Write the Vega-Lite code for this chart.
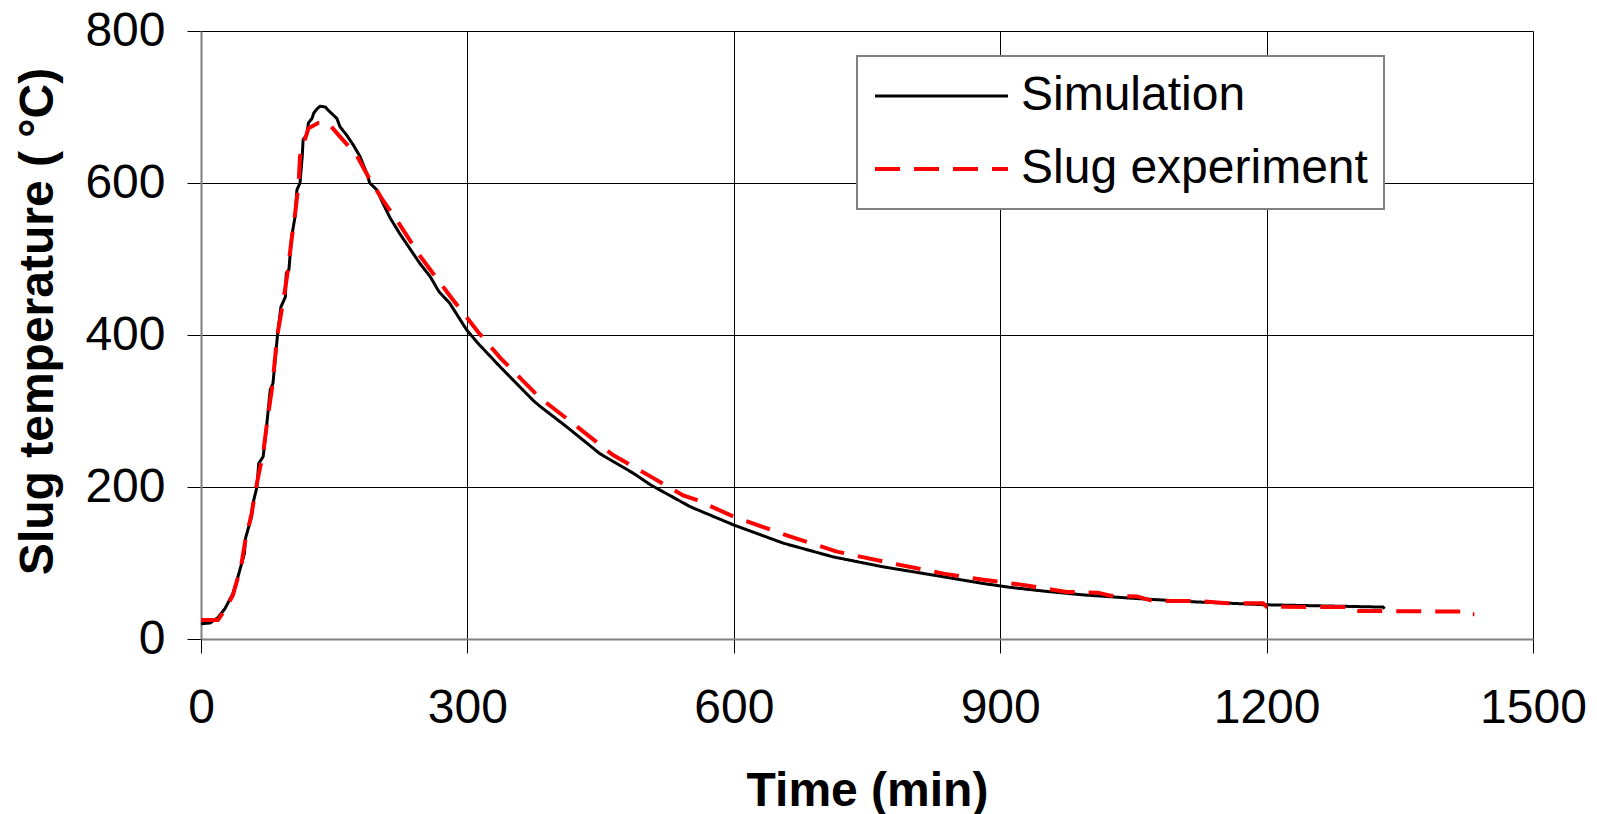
{
  "$schema": "https://vega.github.io/schema/vega-lite/v6.json",
  "width": 1332,
  "height": 608,
  "autosize": "none",
  "padding": {"left": 201, "top": 31, "right": 64, "bottom": 175},
  "background": "white",
  "config": {
    "view": {"stroke": null},
    "font": "Liberation Sans",
    "axis": {
      "domainColor": "#808080",
      "domainWidth": 2,
      "tickColor": "#000000",
      "tickWidth": 1,
      "tickSize": 14,
      "gridColor": "#000000",
      "gridWidth": 1,
      "gridOpacity": 1,
      "labelFontSize": 48,
      "labelColor": "#000000",
      "labelFont": "Liberation Sans",
      "titleFont": "Liberation Sans",
      "titleFontSize": 48,
      "titleFontWeight": "bold",
      "titleColor": "#000000",
      "labelFlush": false,
      "labelOverlap": false,
      "format": "d"
    }
  },
  "data": {
    "values": [
      {"series": "Simulation", "time": 0, "temp": 20},
      {"series": "Simulation", "time": 10, "temp": 21},
      {"series": "Simulation", "time": 19, "temp": 28},
      {"series": "Simulation", "time": 27, "temp": 40},
      {"series": "Simulation", "time": 36, "temp": 60},
      {"series": "Simulation", "time": 40, "temp": 75},
      {"series": "Simulation", "time": 49, "temp": 113},
      {"series": "Simulation", "time": 50, "temp": 132},
      {"series": "Simulation", "time": 57, "temp": 161},
      {"series": "Simulation", "time": 58, "temp": 176},
      {"series": "Simulation", "time": 63, "temp": 200},
      {"series": "Simulation", "time": 65, "temp": 231},
      {"series": "Simulation", "time": 70, "temp": 240},
      {"series": "Simulation", "time": 73, "temp": 270},
      {"series": "Simulation", "time": 78, "temp": 328},
      {"series": "Simulation", "time": 81, "temp": 336},
      {"series": "Simulation", "time": 86, "temp": 398},
      {"series": "Simulation", "time": 90, "temp": 437},
      {"series": "Simulation", "time": 95, "temp": 450},
      {"series": "Simulation", "time": 96, "temp": 481},
      {"series": "Simulation", "time": 99, "temp": 486},
      {"series": "Simulation", "time": 102, "temp": 529},
      {"series": "Simulation", "time": 106, "temp": 556},
      {"series": "Simulation", "time": 108, "temp": 591},
      {"series": "Simulation", "time": 111.5, "temp": 600},
      {"series": "Simulation", "time": 114, "temp": 635},
      {"series": "Simulation", "time": 115, "temp": 657},
      {"series": "Simulation", "time": 119, "temp": 663},
      {"series": "Simulation", "time": 121, "temp": 679},
      {"series": "Simulation", "time": 125, "temp": 685},
      {"series": "Simulation", "time": 127, "temp": 692},
      {"series": "Simulation", "time": 131, "temp": 698},
      {"series": "Simulation", "time": 134, "temp": 701},
      {"series": "Simulation", "time": 140, "temp": 700},
      {"series": "Simulation", "time": 143, "temp": 696},
      {"series": "Simulation", "time": 153, "temp": 685},
      {"series": "Simulation", "time": 156.5, "temp": 674},
      {"series": "Simulation", "time": 164, "temp": 663},
      {"series": "Simulation", "time": 171.5, "temp": 650},
      {"series": "Simulation", "time": 179, "temp": 635},
      {"series": "Simulation", "time": 186.6, "temp": 613},
      {"series": "Simulation", "time": 190, "temp": 600},
      {"series": "Simulation", "time": 198, "temp": 591},
      {"series": "Simulation", "time": 205, "temp": 573},
      {"series": "Simulation", "time": 213, "temp": 554},
      {"series": "Simulation", "time": 224, "temp": 533},
      {"series": "Simulation", "time": 235, "temp": 514},
      {"series": "Simulation", "time": 246.6, "temp": 494},
      {"series": "Simulation", "time": 258, "temp": 477},
      {"series": "Simulation", "time": 268, "temp": 457},
      {"series": "Simulation", "time": 280, "temp": 442},
      {"series": "Simulation", "time": 299, "temp": 407},
      {"series": "Simulation", "time": 312, "temp": 389},
      {"series": "Simulation", "time": 337, "temp": 358},
      {"series": "Simulation", "time": 374, "temp": 314},
      {"series": "Simulation", "time": 382, "temp": 306},
      {"series": "Simulation", "time": 412, "temp": 279},
      {"series": "Simulation", "time": 449, "temp": 244},
      {"series": "Simulation", "time": 487, "temp": 218},
      {"series": "Simulation", "time": 506, "temp": 203},
      {"series": "Simulation", "time": 551, "temp": 174},
      {"series": "Simulation", "time": 600, "temp": 150},
      {"series": "Simulation", "time": 656, "temp": 126},
      {"series": "Simulation", "time": 712, "temp": 108},
      {"series": "Simulation", "time": 768, "temp": 95},
      {"series": "Simulation", "time": 825, "temp": 84},
      {"series": "Simulation", "time": 881, "temp": 73},
      {"series": "Simulation", "time": 911, "temp": 68},
      {"series": "Simulation", "time": 949, "temp": 63},
      {"series": "Simulation", "time": 994, "temp": 58},
      {"series": "Simulation", "time": 1050, "temp": 53.5},
      {"series": "Simulation", "time": 1117, "temp": 49},
      {"series": "Simulation", "time": 1200, "temp": 45},
      {"series": "Simulation", "time": 1331, "temp": 42},
      {"series": "Simulation", "time": 1333, "temp": 40},
      {"series": "Slug experiment", "time": 0, "temp": 25},
      {"series": "Slug experiment", "time": 19, "temp": 25},
      {"series": "Slug experiment", "time": 27, "temp": 38},
      {"series": "Slug experiment", "time": 36, "temp": 58},
      {"series": "Slug experiment", "time": 45, "temp": 95},
      {"series": "Slug experiment", "time": 50, "temp": 130},
      {"series": "Slug experiment", "time": 57, "temp": 165},
      {"series": "Slug experiment", "time": 63, "temp": 205},
      {"series": "Slug experiment", "time": 70, "temp": 245},
      {"series": "Slug experiment", "time": 75, "temp": 290},
      {"series": "Slug experiment", "time": 80, "temp": 330},
      {"series": "Slug experiment", "time": 86, "temp": 400},
      {"series": "Slug experiment", "time": 92, "temp": 440},
      {"series": "Slug experiment", "time": 97, "temp": 478},
      {"series": "Slug experiment", "time": 102, "temp": 525},
      {"series": "Slug experiment", "time": 106, "temp": 560},
      {"series": "Slug experiment", "time": 110, "temp": 600},
      {"series": "Slug experiment", "time": 111.5, "temp": 635},
      {"series": "Slug experiment", "time": 115, "temp": 650},
      {"series": "Slug experiment", "time": 121, "temp": 672},
      {"series": "Slug experiment", "time": 132, "temp": 679},
      {"series": "Slug experiment", "time": 143, "temp": 679},
      {"series": "Slug experiment", "time": 156.5, "temp": 661},
      {"series": "Slug experiment", "time": 175, "temp": 637},
      {"series": "Slug experiment", "time": 190, "temp": 605},
      {"series": "Slug experiment", "time": 205, "temp": 577},
      {"series": "Slug experiment", "time": 224, "temp": 545},
      {"series": "Slug experiment", "time": 246, "temp": 505},
      {"series": "Slug experiment", "time": 262, "temp": 480},
      {"series": "Slug experiment", "time": 280, "temp": 452},
      {"series": "Slug experiment", "time": 312, "temp": 404},
      {"series": "Slug experiment", "time": 337, "temp": 370},
      {"series": "Slug experiment", "time": 382, "temp": 317},
      {"series": "Slug experiment", "time": 412, "temp": 290},
      {"series": "Slug experiment", "time": 464, "temp": 242},
      {"series": "Slug experiment", "time": 509, "temp": 212},
      {"series": "Slug experiment", "time": 543, "temp": 189},
      {"series": "Slug experiment", "time": 558, "temp": 183},
      {"series": "Slug experiment", "time": 600, "temp": 161},
      {"series": "Slug experiment", "time": 663, "temp": 135},
      {"series": "Slug experiment", "time": 716, "temp": 115},
      {"series": "Slug experiment", "time": 768, "temp": 102},
      {"series": "Slug experiment", "time": 836, "temp": 86},
      {"series": "Slug experiment", "time": 881, "temp": 78},
      {"series": "Slug experiment", "time": 926, "temp": 71},
      {"series": "Slug experiment", "time": 975, "temp": 62},
      {"series": "Slug experiment", "time": 1010, "temp": 61},
      {"series": "Slug experiment", "time": 1024, "temp": 57},
      {"series": "Slug experiment", "time": 1054, "temp": 56},
      {"series": "Slug experiment", "time": 1072, "temp": 50},
      {"series": "Slug experiment", "time": 1122, "temp": 50},
      {"series": "Slug experiment", "time": 1156, "temp": 47},
      {"series": "Slug experiment", "time": 1196, "temp": 47},
      {"series": "Slug experiment", "time": 1200, "temp": 42.5},
      {"series": "Slug experiment", "time": 1289, "temp": 42},
      {"series": "Slug experiment", "time": 1292, "temp": 37},
      {"series": "Slug experiment", "time": 1421, "temp": 36},
      {"series": "Slug experiment", "time": 1423, "temp": 32.5},
      {"series": "Slug experiment", "time": 1434, "temp": 32.5}
    ]
  },
  "mark": {"type": "line", "strokeJoin": "miter"},
  "encoding": {
    "x": {
      "field": "time",
      "type": "quantitative",
      "scale": {"domain": [0, 1500], "nice": false},
      "axis": {
        "values": [0, 300, 600, 900, 1200, 1500],
        "format": "d",
        "title": "Time (min)",
        "labelPadding": 31,
        "titlePadding": 35
      }
    },
    "y": {
      "field": "temp",
      "type": "quantitative",
      "scale": {"domain": [0, 800], "nice": false},
      "axis": {
        "values": [0, 200, 400, 600, 800],
        "format": "d",
        "title": "Slug temperature ( °C)",
        "labelPadding": 22,
        "titlePadding": 22,
        "titleY": 290
      }
    },
    "strokeWidth": {
      "field": "series",
      "type": "nominal",
      "scale": {"domain": ["Simulation", "Slug experiment"], "range": [3, 4]},
      "legend": null
    },
    "color": {
      "field": "series",
      "type": "nominal",
      "scale": {"domain": ["Simulation", "Slug experiment"], "range": ["#000000", "#ff0000"]},
      "legend": {
        "orient": "none",
        "legendX": 656,
        "legendY": 25,
        "title": null,
        "labelFontSize": 48,
        "labelColor": "#000000",
        "labelLimit": 600,
        "labelOffset": 11,
        "symbolType": "stroke",
        "symbolSize": 17689,
        "symbolStrokeWidth": 3.5,
        "clipHeight": 48,
        "rowPadding": 25,
        "padding": 16,
        "strokeColor": "#808080",
        "fillColor": "#ffffff",
        "encode": {"legend": {"update": {"strokeWidth": {"value": 2}}}}
      }
    },
    "strokeDash": {
      "field": "series",
      "type": "nominal",
      "scale": {"domain": ["Simulation", "Slug experiment"], "range": [[1, 0], [25, 14]]},
      "legend": {
        "orient": "none",
        "legendX": 656,
        "legendY": 25,
        "title": null,
        "labelFontSize": 48,
        "labelColor": "#000000",
        "labelLimit": 600,
        "labelOffset": 11,
        "symbolType": "stroke",
        "symbolSize": 17689,
        "symbolStrokeWidth": 3.5,
        "clipHeight": 48,
        "rowPadding": 25,
        "padding": 16,
        "strokeColor": "#808080",
        "fillColor": "#ffffff",
        "encode": {"legend": {"update": {"strokeWidth": {"value": 2}}}}
      }
    }
  }
}
